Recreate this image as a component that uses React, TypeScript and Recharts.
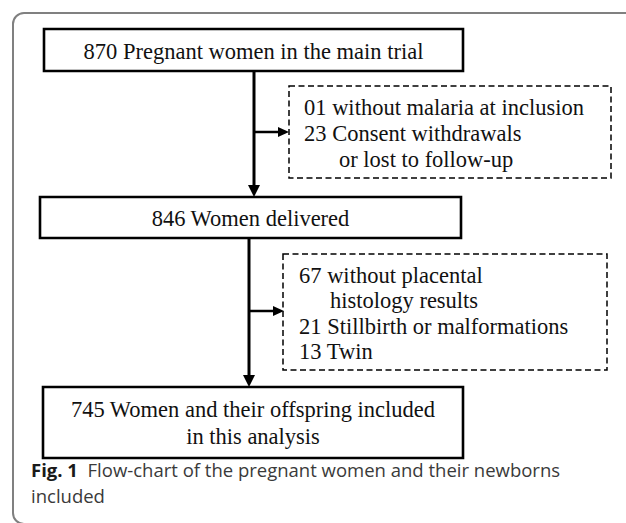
import { ScatterChart, Scatter, XAxis, YAxis, ReferenceArea, ReferenceLine } from 'recharts'

// flow counts and labels
const stepCounts = ['870', '846', '745']
const stepLabels = [
  ['Pregnant women in the main trial'],
  ['Women delivered'],
  ['Women and their offspring included', 'in this analysis'],
]
const firstExclusionCounts = ['01', '23']
const firstExclusionLabels = [['without malaria at inclusion'], ['Consent withdrawals', 'or lost to follow-up']]
const secondExclusionCounts = ['67', '21', '13']
const secondExclusionLabels = [['without placental', 'histology results'], ['Stillbirth or malformations'], ['Twin']]
const captionTag = 'Fig. 1'
const captionLines = ['Flow-chart of the pregnant women and their newborns', 'included']

// layout (pixel units of the chart's own scales)
const W = 626
const H = 523
const stepBoxes = [
  { x1: 44, x2: 463, y1: 29, y2: 71, baseline: 59 },
  { x1: 40, x2: 461, y1: 197, y2: 238, baseline: 226 },
  { x1: 43, x2: 463, y1: 387, y2: 458, baseline: 417 },
]
const exclusionBoxes = [
  { x1: 289, x2: 611, y1: 86, y2: 178, textX: 304, indentX: 339, baseline: 115, gap: 26 },
  { x1: 283, x2: 607, y1: 254, y2: 370, textX: 299, indentX: 330, baseline: 283, gap: 25.3 },
]
const arrows = [
  { from: { x: 254, y: 71 }, to: { x: 254, y: 197 }, dir: 'down' },
  { from: { x: 254, y: 132 }, to: { x: 289, y: 132 }, dir: 'right' },
  { from: { x: 249, y: 238 }, to: { x: 249, y: 387 }, dir: 'down' },
  { from: { x: 249, y: 311 }, to: { x: 284, y: 311 }, dir: 'right' },
]

const SERIF = "'Liberation Serif', 'Times New Roman', Times, serif"
const SANS = "'Open Sans', 'Noto Sans', sans-serif"

type TextRow = { x: number; y: number; text: string; anchor: string; kind: string; tag?: string }

const rows: TextRow[] = []
stepBoxes.forEach((b, i) => {
  const cx = (b.x1 + b.x2) / 2
  stepLabels[i].forEach((line, j) => {
    rows.push({
      x: cx,
      y: b.baseline + j * 27,
      text: j === 0 ? `${stepCounts[i]} ${line}` : line,
      anchor: 'middle',
      kind: 'step',
    })
  })
})
const groups = [
  { counts: firstExclusionCounts, labels: firstExclusionLabels },
  { counts: secondExclusionCounts, labels: secondExclusionLabels },
]
groups.forEach((g, gi) => {
  const b = exclusionBoxes[gi]
  let k = 0
  g.counts.forEach((c, i) => {
    g.labels[i].forEach((line, j) => {
      rows.push({
        x: j === 0 ? b.textX : b.indentX,
        y: b.baseline + k * b.gap,
        text: j === 0 ? `${c} ${line}` : line,
        anchor: 'start',
        kind: 'exclusion',
      })
      k++
    })
  })
})
captionLines.forEach((line, i) => {
  rows.push({ x: 31, y: 477 + i * 26, text: line, anchor: 'start', kind: 'caption', tag: i === 0 ? captionTag : undefined })
})

const tips = arrows.map((a) => ({ x: a.to.x, y: a.to.y, dir: a.dir }))

function shaft(a: (typeof arrows)[number]) {
  const len = a.dir === 'down' ? 11 : 10
  const end = a.dir === 'down' ? { x: a.to.x, y: a.to.y - len } : { x: a.to.x - len, y: a.to.y }
  return [a.from, end]
}

function ArrowHead(props: any) {
  const { cx, cy, payload } = props
  if (payload.dir === 'down') {
    return <polygon points={`${cx - 6},${cy - 12} ${cx + 6},${cy - 12} ${cx},${cy}`} fill="#000" />
  }
  return <polygon points={`${cx - 11},${cy - 5} ${cx - 11},${cy + 5} ${cx},${cy}`} fill="#000" />
}

function TextMark(props: any) {
  const { cx, cy, payload } = props
  if (payload.kind === 'caption') {
    return (
      <text x={cx} y={cy} style={{ fontFamily: SANS, fontSize: 18.5, fill: '#3a3a3a' }}>
        {payload.tag && (
          <tspan style={{ fontWeight: 700, fill: '#1a1a1a' }}>
            {payload.tag}
            {'\u00a0\u00a0'}
          </tspan>
        )}
        {payload.text}
      </text>
    )
  }
  return (
    <text
      x={cx}
      y={cy}
      textAnchor={payload.anchor}
      style={{ fontFamily: SERIF, fontSize: payload.kind === 'step' ? 22.5 : 22.5, fill: '#111' }}
    >
      {payload.text}
    </text>
  )
}

function Frame(props: any) {
  const { x, y, width, height } = props
  return <rect x={x} y={y} width={width} height={height} rx={11} ry={11} fill="none" stroke="#808080" strokeWidth={2} />
}

export default function App() {
  return (
    <div style={{ position: 'absolute', left: 0, top: 0, width: W, height: H, background: '#fff' }}>
      <ScatterChart width={W} height={H} margin={{ top: 0, right: 0, bottom: 0, left: 0 }}>
        <XAxis type="number" dataKey="x" domain={[0, W]} hide allowDataOverflow height={0} />
        <YAxis type="number" dataKey="y" domain={[0, H]} reversed hide allowDataOverflow width={0} />
        <ReferenceArea x1={13} x2={W + 30} y1={13} y2={H + 1} ifOverflow="visible" shape={Frame} />
        {stepBoxes.map((b, i) => (
          <ReferenceArea
            key={`s${i}`}
            x1={b.x1}
            x2={b.x2}
            y1={b.y1}
            y2={b.y2}
            fill="none"
            fillOpacity={0}
            stroke="#000"
            strokeWidth={2.6}
            ifOverflow="visible"
          />
        ))}
        {exclusionBoxes.map((b, i) => (
          <ReferenceArea
            key={`e${i}`}
            x1={b.x1}
            x2={b.x2}
            y1={b.y1}
            y2={b.y2}
            fill="none"
            fillOpacity={0}
            stroke="#000"
            strokeWidth={1.5}
            strokeDasharray="6 3.5"
            ifOverflow="visible"
          />
        ))}
        {arrows.map((a, i) => (
          <ReferenceLine
            key={`a${i}`}
            segment={shaft(a)}
            stroke="#000"
            strokeWidth={a.dir === 'down' ? 3 : 2.5}
            ifOverflow="visible"
          />
        ))}
        <Scatter data={tips} shape={ArrowHead} isAnimationActive={false} />
        <Scatter data={rows} shape={TextMark} isAnimationActive={false} />
      </ScatterChart>
    </div>
  )
}
